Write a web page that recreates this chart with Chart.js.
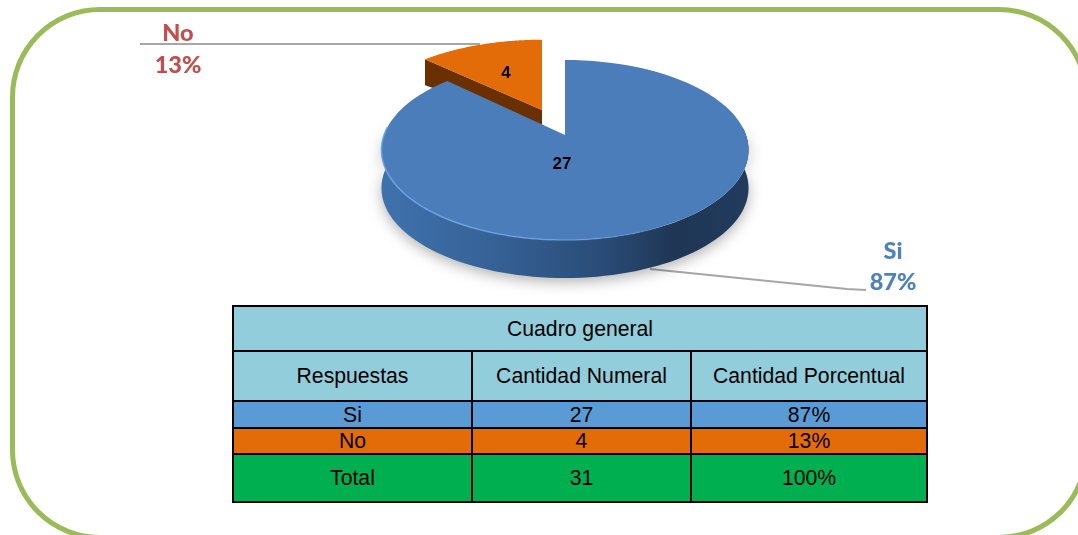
<!DOCTYPE html>
<html>
  <head>
    <title>Cuadro general</title>
    <script src="https://cdn.jsdelivr.net/npm/chart.js"></script>
    <style>
      html,
      body {
        margin: 0;
        padding: 0;
        width: 1078px;
        height: 535px;
        overflow: hidden;
        background: #fff;
      }

      #frame {
        position: absolute;
        left: 10px;
        top: 7px;
        width: 1079px;
        height: 533px;
        box-sizing: border-box;
        border: 5px solid #9bbb59;
        border-radius: 90px;
      }

      #pieChart {
        position: absolute;
        left: 0;
        top: 0;
      }

      #dataTable {
        position: absolute;
        left: 232px;
        top: 305px;
        width: 694px;
        height: 196px;
        table-layout: fixed;
        border-collapse: collapse;
        font-family: "Liberation Sans", Arial, sans-serif;
        font-size: 21.2px;
        color: #000;
      }

      #dataTable td {
        border: 2px solid #000;
        padding: 0;
        text-align: center;
        line-height: 1;
      }
    </style>
  </head>
  <body>
    <div id="frame"></div>
    <canvas id="pieChart" width="1078" height="535"></canvas>
    <table id="dataTable">
      <colgroup>
        <col style="width: 239px" />
        <col style="width: 219px" />
        <col style="width: 236px" />
      </colgroup>
      <tbody id="dataBody"></tbody>
    </table>

    <script>
      const categories = ["Si", "No"];
      const counts = [27, 4];
      const percents = ["87%", "13%"];
      const tableTitle = "Cuadro general";
      const tableHeads = ["Respuestas", "Cantidad Numeral", "Cantidad Porcentual"];
      const totalRow = ["Total", "31", "100%"];

      const topColors = ["#4b7dba", "#e36c09"];
      const labelColors = ["#4f81bd", "#c0504d"];
      const rowColors = ["#5b9bd5", "#e36c09"];

      // fake 3d: each slice has its own apex, the far side of the disc is squeezed
      const perspective = 1 / 6;
      const shapes = [
        { x: 565, y: 135, rx: 181, ry: 87.5 },
        { x: 542, y: 110, rx: 180, ry: 82 },
      ];
      const depth = 38;

      function project(shape, theta) {
        const u = Math.sin(theta);
        const v = Math.cos(theta);
        const w = 1 + perspective * v;
        return {
          x: shape.x + (shape.rx * u) / w,
          y: shape.y - (shape.ry * v) / w,
        };
      }

      // chart.js angles start at -90deg, theta starts at 12 o'clock
      function traceRim(ctx, shape, from, to, dy) {
        const steps = 90;
        for (let i = 0; i <= steps; i++) {
          const p = project(shape, from + ((to - from) * i) / steps);
          ctx.lineTo(p.x, p.y + dy);
        }
      }

      function fillSlice(ctx, shape, from, to, color) {
        ctx.beginPath();
        ctx.moveTo(shape.x, shape.y);
        traceRim(ctx, shape, from, to, 0);
        ctx.closePath();
        ctx.fillStyle = color;
        ctx.fill();
      }

      function drawLeaders(ctx) {
        ctx.strokeStyle = "#a6a6a6";
        ctx.lineWidth = 2;
        ctx.beginPath();
        ctx.moveTo(140, 44);
        ctx.lineTo(480, 44);
        ctx.stroke();
        ctx.beginPath();
        ctx.moveTo(650, 269);
        ctx.lineTo(847, 289);
        ctx.lineTo(866, 290);
        ctx.stroke();
      }

      function drawOrange(ctx, arc) {
        const shape = shapes[1];
        const from = arc.startAngle + Math.PI / 2;
        const to = arc.endAngle + Math.PI / 2;
        const corner = project(shape, from);
        // inner wall, the blue slice covers the lower part
        ctx.beginPath();
        ctx.moveTo(shape.x, shape.y);
        ctx.lineTo(corner.x, corner.y);
        ctx.lineTo(corner.x, corner.y + 26);
        ctx.lineTo(shape.x, shape.y + 15);
        ctx.closePath();
        ctx.fillStyle = "#6b3000";
        ctx.fill();
        fillSlice(ctx, shape, from, to, topColors[1]);
      }

      function drawBlue(ctx, arc) {
        const shape = shapes[0];
        const from = arc.startAngle + Math.PI / 2;
        const to = arc.endAngle + Math.PI / 2;
        const a = Math.PI * 0.47;
        const b = Math.PI * 1.53;

        const side = ctx.createLinearGradient(381, 0, 750, 0);
        side.addColorStop(0, "#3f72ad");
        side.addColorStop(0.3, "#366297");
        side.addColorStop(0.6, "#2a4c77");
        side.addColorStop(0.8, "#1f3654");
        side.addColorStop(1, "#223c5e");

        ctx.save();
        ctx.shadowColor = "rgba(0, 0, 0, 0.3)";
        ctx.shadowBlur = 14;
        ctx.shadowOffsetY = 4;
        ctx.beginPath();
        traceRim(ctx, shape, a, b, 0);
        traceRim(ctx, shape, b, a, depth);
        ctx.closePath();
        ctx.fillStyle = side;
        ctx.fill();
        ctx.restore();

        fillSlice(ctx, shape, from, to, topColors[0]);

        // light edge on the front of the disc
        const edge = ctx.createLinearGradient(381, 0, 690, 0);
        edge.addColorStop(0, "rgba(110, 165, 230, 0.9)");
        edge.addColorStop(0.5, "rgba(110, 165, 230, 0.8)");
        edge.addColorStop(1, "rgba(110, 165, 230, 0)");
        ctx.beginPath();
        traceRim(ctx, shape, b, Math.PI * 0.85, 0);
        ctx.strokeStyle = edge;
        ctx.lineWidth = 1.5;
        ctx.stroke();
      }

      function drawLabels(ctx) {
        ctx.textAlign = "center";
        ctx.textBaseline = "middle";
        ctx.fillStyle = "#000";
        ctx.font = "bold 17px 'Liberation Sans', Arial, sans-serif";
        ctx.fillText(String(counts[0]), 562, 164);
        ctx.fillText(String(counts[1]), 506, 73);

        ctx.font = "900 23.5px Lato, sans-serif";
        ctx.fillStyle = labelColors[1];
        ctx.fillText(categories[1], 178, 33);
        ctx.fillText(percents[1], 178, 65);
        ctx.fillStyle = labelColors[0];
        ctx.fillText(categories[0], 893, 251);
        ctx.fillText(percents[0], 893, 282);
      }

      const pie3d = {
        id: "pie3d",
        beforeDatasetDraw(chart) {
          const ctx = chart.ctx;
          const arcs = chart.getDatasetMeta(0).data;
          ctx.save();
          drawLeaders(ctx);
          drawOrange(ctx, arcs[1]);
          drawBlue(ctx, arcs[0]);
          drawLabels(ctx);
          ctx.restore();
          return false;
        },
      };

      function drawChart() {
        const ctx = document.getElementById("pieChart").getContext("2d");
        new Chart(ctx, {
          type: "pie",
          data: {
            labels: categories,
            datasets: [{ data: counts, backgroundColor: topColors, borderWidth: 0 }],
          },
          options: {
            responsive: false,
            animation: false,
            plugins: {
              legend: { display: false },
              tooltip: { enabled: false },
            },
          },
          plugins: [pie3d],
        });
      }

      function fillTable() {
        const heights = [45, 50, 27, 26, 48];
        let html = `<tr style="height:${heights[0]}px;background:#92cddc"><td colspan="3">${tableTitle}</td></tr>`;
        html += `<tr style="height:${heights[1]}px;background:#92cddc">`;
        for (const head of tableHeads) {
          html += `<td>${head}</td>`;
        }
        html += "</tr>";
        for (let i = 0; i < categories.length; i++) {
          html += `<tr style="height:${heights[i + 2]}px;background:${rowColors[i]}"><td>${categories[i]}</td><td>${counts[i]}</td><td>${percents[i]}</td></tr>`;
        }
        html += `<tr style="height:${heights[4]}px;background:#00b050">`;
        for (const cell of totalRow) {
          html += `<td>${cell}</td>`;
        }
        html += "</tr>";
        document.getElementById("dataBody").innerHTML = html;
      }

      fillTable();
      drawChart();
    </script>
  </body>
</html>
